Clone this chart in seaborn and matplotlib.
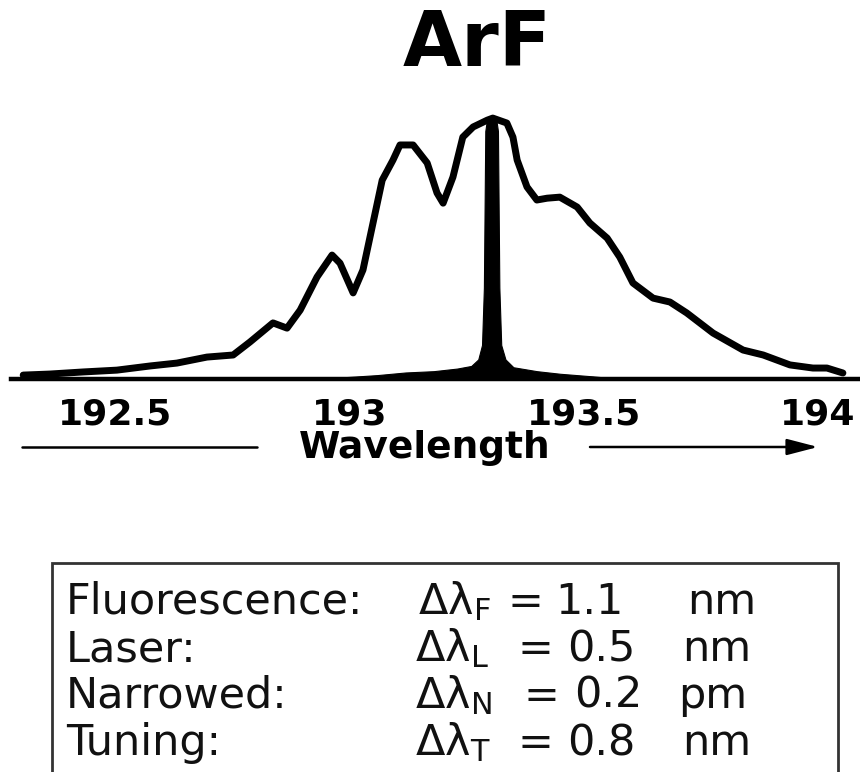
import matplotlib
matplotlib.use("Agg")
import matplotlib.pyplot as plt
import seaborn as sns
from matplotlib.lines import Line2D
from matplotlib.patches import Rectangle, FancyArrowPatch, ArrowStyle

# Free-running ArF fluorescence spectrum (normalised intensity)
fluor_nm = [192.304, 192.361, 192.432, 192.504, 192.575, 192.632, 192.696, 192.752,
            192.788, 192.837, 192.867, 192.895, 192.931, 192.963, 192.980, 193.008,
            193.029, 193.044, 193.070, 193.093, 193.108, 193.136, 193.166, 193.187,
            193.200, 193.221, 193.242, 193.264, 193.294, 193.306, 193.336, 193.349,
            193.358, 193.379, 193.400, 193.422, 193.449, 193.486, 193.513, 193.550,
            193.577, 193.605, 193.648, 193.684, 193.720, 193.776, 193.840, 193.883,
            193.940, 193.989, 194.019, 194.053]
fluor_int = [0.015, 0.019, 0.027, 0.034, 0.050, 0.061, 0.084, 0.092,
             0.142, 0.215, 0.195, 0.264, 0.391, 0.475, 0.444, 0.330,
             0.418, 0.544, 0.762, 0.839, 0.897, 0.897, 0.828, 0.713,
             0.674, 0.774, 0.927, 0.966, 0.992, 1.000, 0.981, 0.927,
             0.839, 0.736, 0.686, 0.693, 0.697, 0.659, 0.598, 0.540,
             0.467, 0.368, 0.310, 0.295, 0.253, 0.176, 0.111, 0.092,
             0.054, 0.042, 0.042, 0.023]

# Line-narrowed laser emission (normalised intensity)
narrow_nm = [192.92, 193.00, 193.06, 193.12, 193.18, 193.23, 193.26, 193.275,
             193.283, 193.287, 193.290, 193.294, 193.313, 193.317, 193.320,
             193.324, 193.333, 193.350, 193.400, 193.450, 193.520, 193.580]
narrow_int = [0.000, 0.008, 0.015, 0.025, 0.030, 0.040, 0.050, 0.075,
              0.130, 0.350, 0.950, 1.000, 1.000, 0.950, 0.350,
              0.130, 0.075, 0.045, 0.030, 0.020, 0.010, 0.000]

tick_values = [192.5, 193.0, 193.5, 194.0]
tick_labels = ["192.5", "193", "193.5", "194"]

row_names = ["Fluorescence:", "Laser:", "Narrowed:", "Tuning:"]
row_subs = ["F", "L", "N", "T"]
row_values = ["1.1", "0.5", "0.2", "0.8"]
row_units = ["nm", "nm", "pm", "nm"]

sns.set_theme(style="white")
plt.rcParams["font.family"] = ["DejaVu Sans"]
plt.rcParams["mathtext.fontset"] = "dejavusans"

W, H = 860, 772
fig = plt.figure(figsize=(W / 100, H / 100), dpi=100)
fig.patch.set_facecolor("white")


def fx(px):
    return px / W


def fy(py):
    return 1 - py / H


# spectrum axes: baseline at y=379 px, spans to the right edge
ax = fig.add_axes([fx(11), fy(379), fx(W - 11), 287 / H])
ax.set_xlim(192.278, 194.0895)
ax.set_ylim(0, 1.1)
ax.set_facecolor("white")

ax.fill_between(narrow_nm, narrow_int, 0, color="black", linewidth=0.8)
sns.lineplot(x=fluor_nm, y=fluor_int, sort=False, estimator=None, ax=ax,
             color="black", linewidth=5.0, solid_joinstyle="round",
             solid_capstyle="round")
for ln in ax.lines:
    ln.set_clip_on(False)

for side in ["left", "top", "right"]:
    ax.spines[side].set_visible(False)
ax.spines["bottom"].set_linewidth(3.2)
ax.spines["bottom"].set_color("black")
ax.set_yticks([])
ax.set_xticks(tick_values)
ax.set_xticklabels(tick_labels, fontsize=26, fontweight="bold")
ax.tick_params(axis="x", direction="inout", length=7, width=1.5,
               color="black", pad=10, labelcolor="black")
ax.set_xlabel("")
ax.set_ylabel("")

# title
fig.text(fx(477), fy(66), "ArF", ha="center", va="baseline",
         fontsize=55, fontweight="bold", color="black")

# wavelength caption with arrow
fig.text(fx(425), fy(458), "Wavelength", ha="center", va="baseline",
         fontsize=27, fontweight="bold", color="black")
fig.add_artist(Line2D([fx(22), fx(257)], [fy(447), fy(447)],
                      transform=fig.transFigure, color="black", linewidth=1.8))
fig.add_artist(FancyArrowPatch((fx(590), fy(447)), (fx(818), fy(447)),
                               transform=fig.transFigure,
                               arrowstyle=ArrowStyle("-|>", head_length=1.0,
                                                     head_width=0.26),
                               mutation_scale=19, color="black",
                               linewidth=1.8, shrinkA=0, shrinkB=0))

# linewidth summary box
box_left, box_right, box_top = 52, 838, 563
fig.add_artist(Rectangle((fx(box_left), fy(800)), (box_right - box_left) / W,
                         (800 - box_top) / H, transform=fig.transFigure,
                         fill=False, edgecolor="#333333", linewidth=2,
                         clip_on=False))

baselines = [614, 661, 708, 755]
delta_x = [418, 415, 415, 415]
equal_x = [508, 517, 524, 517]
value_x = [555, 567, 574, 567]
unit_x = [687, 682, 678, 682]
txt = dict(va="baseline", fontsize=31, color="#111111")
for i, name in enumerate(row_names):
    yb = fy(baselines[i])
    fig.text(fx(66), yb, name, **txt)
    fig.text(fx(delta_x[i]), yb, "Δλ$_{\\mathregular{%s}}$" % row_subs[i], **txt)
    fig.text(fx(equal_x[i]), yb, "=", **txt)
    fig.text(fx(value_x[i]), yb, row_values[i], **txt)
    fig.text(fx(unit_x[i]), yb, row_units[i], **txt)

fig.savefig("out.png", dpi=100, facecolor="white")
